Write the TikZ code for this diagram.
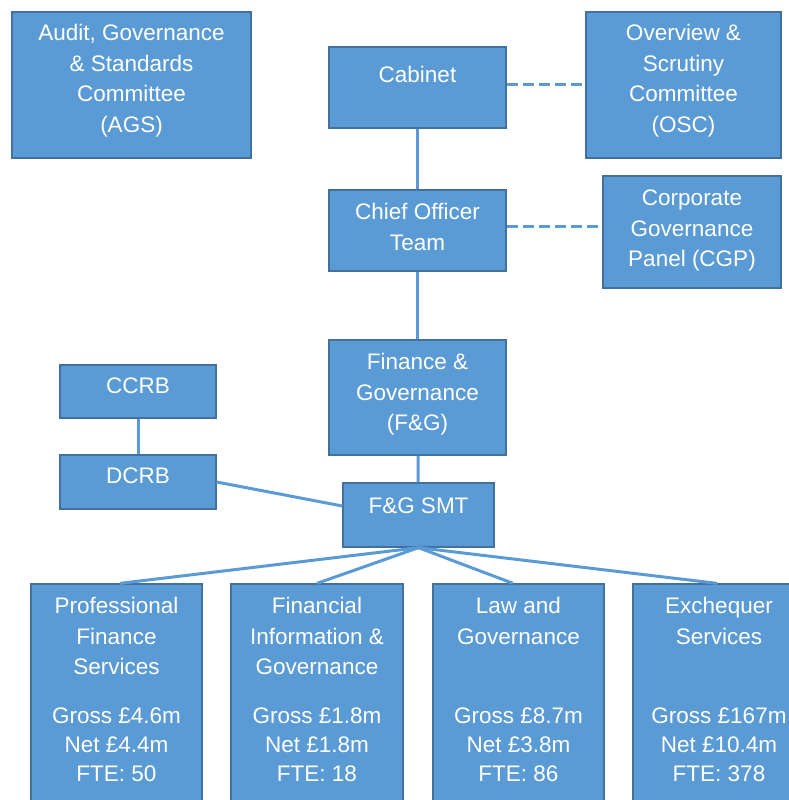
\documentclass[tikz,border=0pt]{standalone}
\usepackage{fontspec}
\setmainfont{Liberation Sans}
\definecolor{boxfill}{HTML}{5B9BD5}
\definecolor{boxline}{HTML}{41719C}
\definecolor{conn}{HTML}{5B9BD5}
\begin{document}
\begin{tikzpicture}[x=1pt,y=-1pt,
  box/.style={draw=boxline, line width=1.3pt, fill=boxfill, text=white,
    inner sep=0pt, align=center,
    font=\fontsize{22.5}{30.5}\selectfont},
  link/.style={draw=conn, line width=3pt},
  dlink/.style={draw=conn, line width=3pt, dash pattern=on 11pt off 5pt}]
\useasboundingbox (0,0) rectangle (789,800);
% top row
\node[box, minimum width=239pt, minimum height=146pt, text height=112.85pt, text depth=18.05pt] (ags) at (131.5,85)
  {Audit, Governance\\ \& Standards\\ Committee\\ (AGS)};
\node[box, minimum width=195pt, minimum height=146pt, text height=112.85pt, text depth=18.05pt] (osc) at (683.5,85)
  {Overview \&\\ Scrutiny\\ Committee\\ (OSC)};
\node[box, minimum width=177pt, minimum height=81pt, text height=21.35pt, text depth=30.55pt] (cab) at (417.5,87.5)
  {Cabinet};
\node[box, minimum width=177pt, minimum height=81pt, text height=51.85pt, text depth=12.05pt] (cot) at (417.5,230.5)
  {Chief Officer\\ Team};
\node[box, minimum width=178pt, minimum height=112pt, text height=82.35pt, text depth=12.55pt] (cgp) at (692,232)
  {Corporate\\ Governance\\ Panel (CGP)};
\node[box, minimum width=177pt, minimum height=115pt, text height=82.35pt, text depth=15.55pt] (fg) at (417.5,397.5)
  {Finance \&\\ Governance\\ (F\&G)};
\node[box, minimum width=156pt, minimum height=53pt, text height=21.35pt, text depth=16.55pt] (ccrb) at (138,391.5)
  {CCRB};
\node[box, minimum width=156pt, minimum height=54pt, text height=21.35pt, text depth=17.55pt] (dcrb) at (138,482)
  {DCRB};
\node[box, minimum width=151pt, minimum height=64pt, text height=21.35pt, text depth=23.55pt] (smt) at (418.5,515)
  {F\&G SMT};
% bottom row
\node[box, minimum width=171pt, minimum height=222pt, text height=189.35pt, text depth=15.55pt] (pfs) at (116.5,695)
  {Professional\\ Finance\\ Services\\[18.5pt] Gross £4.6m\\[-1.5pt] Net £4.4m\\[-1.5pt] FTE: 50};
\node[box, minimum width=172pt, minimum height=222pt, text height=189.35pt, text depth=15.55pt] (fig) at (317,695)
  {Financial\\ Information \&\\ Governance\\[18.5pt] Gross £1.8m\\[-1.5pt] Net £1.8m\\[-1.5pt] FTE: 18};
\node[box, minimum width=171pt, minimum height=222pt, text height=189.35pt, text depth=15.55pt] (lg) at (518.5,695)
  {Law and\\ Governance\\[49pt] Gross £8.7m\\[-1.5pt] Net £3.8m\\[-1.5pt] FTE: 86};
\node[box, minimum width=172pt, minimum height=222pt, text height=189.35pt, text depth=15.55pt] (es) at (719,695)
  {Exchequer\\ Services\\[49pt] Gross £167m\\[-1.5pt] Net £10.4m\\[-1.5pt] FTE: 378};
% connectors
\draw[link] (cab) -- (cot);
\draw[link] (cot) -- (fg);
\draw[link] (fg) -- (smt);
\draw[link] (ccrb) -- (dcrb);
\draw[link] (dcrb.east) -- ([yshift=9pt]smt.west);
\draw[dlink] ([yshift=3.5pt]cab.east) -- ([yshift=3.5pt]cab.east -| osc.west);
\draw[dlink] ([yshift=4.5pt]cot.east) -- ([yshift=4.5pt]cot.east -| cgp.west);
\draw[link] (smt.south) -- ([xshift=3.5pt]pfs.north);
\draw[link] (smt.south) -- (fig.north);
\draw[link] (smt.south) -- ([xshift=-5.5pt]lg.north);
\draw[link] (smt.south) -- ([xshift=-2pt]es.north);
\end{tikzpicture}
\end{document}
